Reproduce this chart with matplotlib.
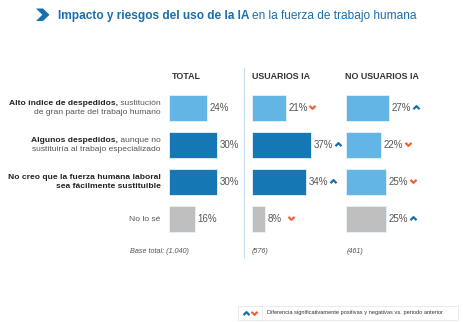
import matplotlib
matplotlib.use("Agg")
import matplotlib.pyplot as plt
from matplotlib.path import Path
from matplotlib.patches import Polygon, Rectangle

plt.rcParams['font.family'] = ['Liberation Sans', 'DejaVu Sans']

# data
columns = ["TOTAL", "USUARIOS IA", "NO USUARIOS IA"]
bases = ["Base total: (1.040)", "(576)", "(461)"]
total = [24, 30, 30, 16]
usuarios = [21, 37, 34, 8]
no_usuarios = [27, 22, 25, 25]
sig_usuarios = ["down", "up", "up", "down"]
sig_no_usuarios = ["up", "down", "down", "up"]
# category labels as (text, bold) pieces per line
categories = [
    [[("Alto índice de despedidos,", True), (" sustitución", False)],
     [("de gran parte del trabajo humano", False)]],
    [[("Algunos despedidos,", True), (" aunque no", False)],
     [("sustituiría al trabajo especializado", False)]],
    [[("No creo que la fuerza humana laboral", True)],
     [("sea fácilmente sustituible", True)]],
    [[("No lo sé", False)]],
]

LIGHT = "#62b5e5"
DARK = "#1677b5"
GRAY = "#bfbfbf"
UP = "#1670b0"
DOWN = "#f0643a"
TXT = "#555555"
column_colors = [
    [LIGHT, DARK, DARK, GRAY],
    [LIGHT, DARK, DARK, GRAY],
    [LIGHT, LIGHT, LIGHT, GRAY],
]

W, H = 463, 322
fig = plt.figure(figsize=(W / 100, H / 100), dpi=100)

# pixel-space overlay for text and decorations
ov = fig.add_axes([0, 0, 1, 1], zorder=5)
ov.set_xlim(0, W)
ov.set_ylim(H, 0)
ov.axis('off')
ov.patch.set_alpha(0)

PX_PER_PCT = 1.6
ROW_TOP, ROW_H = 89.5, 37
col_left = [169, 252, 346]
header_x = [172, 252, 345]
ax_w = 100

up_marker = Path([(-1, -0.55), (0, 0.45), (1, -0.55)], [Path.MOVETO, Path.LINETO, Path.LINETO])
down_marker = Path([(-1, 0.55), (0, -0.45), (1, 0.55)], [Path.MOVETO, Path.LINETO, Path.LINETO])

series = [total, usuarios, no_usuarios]
sigs = [None, sig_usuarios, sig_no_usuarios]
for ci, vals in enumerate(series):
    left = col_left[ci]
    bottom = H - (ROW_TOP + 4 * ROW_H)
    ax = fig.add_axes([left / W, bottom / H, ax_w / W, 4 * ROW_H / H])
    ax.set_xlim(0, ax_w / PX_PER_PCT)
    ax.set_ylim(3.5, -0.5)
    ax.axis('off')
    ax.patch.set_alpha(0)
    ax.barh(range(len(vals)), vals, height=0.70, color=column_colors[ci],
            edgecolor="#e8f3fb", linewidth=0.6)
    for i, v in enumerate(vals):
        ax.annotate(f"{v}%", (v, i), xytext=(2.5, 0), textcoords='offset pixels',
                    ha='left', va='center', fontsize=7, color=TXT)
        if sigs[ci] is not None:
            up = sigs[ci][i] == "up"
            ax.plot([v + 26.5 / PX_PER_PCT], [i - 0.02], linestyle='none',
                    marker=up_marker if up else down_marker, markersize=4.4,
                    markerfacecolor='none', markeredgewidth=1.6,
                    markeredgecolor=UP if up else DOWN, clip_on=False)
    # column header
    ov.text(header_x[ci], 76.5, columns[ci], fontsize=6.4, fontweight='bold',
            color="#333333", ha='left', va='center')

ov.text(189, 251, bases[0], fontsize=5.2, style='italic', color=TXT, ha='right', va='center')
ov.text(252, 251, bases[1], fontsize=5.2, style='italic', color=TXT, ha='left', va='center')
ov.text(347, 251, bases[2], fontsize=5.2, style='italic', color=TXT, ha='left', va='center')

# title with chevron
ov.add_patch(Polygon([(36, 8.5), (43, 8.5), (49.5, 14.8), (43, 21), (36, 21), (42.3, 14.8)],
                     closed=True, color="#1a6fae", lw=0))
fig.canvas.draw()
renderer = fig.canvas.get_renderer()
t1 = ov.text(57.5, 15.5, "Impacto y riesgos del uso de la IA", fontsize=8.55,
             fontweight='bold', color="#1a6fae", ha='left', va='center')
bb = t1.get_window_extent(renderer)
ov.text(57.5 + bb.width + 3, 15.5, "en la fuerza de trabajo humana", fontsize=8.55,
        color="#1a6fae", ha='left', va='center')


# category labels, right aligned, pieces drawn right to left
def rich_line(x_right, y, pieces):
    x = x_right
    for text, bold in reversed(pieces):
        t = ov.text(x, y, text, fontsize=6.1, ha='right', va='center',
                    fontweight='bold' if bold else 'normal',
                    color="#222222" if bold else TXT)
        x -= t.get_window_extent(renderer).width


for i, lines in enumerate(categories):
    yc = ROW_TOP + ROW_H * (i + 0.5)
    if len(lines) == 1:
        rich_line(160.5, yc, lines[0])
    else:
        rich_line(160.5, yc - 4.8, lines[0])
        rich_line(160.5, yc + 4.8, lines[1])

# separator between total and segments
ov.plot([243.5, 243.5], [68, 258], color="#c8e0f1", lw=0.9)

# legend box
ov.add_patch(Rectangle((238, 306), 219.5, 13.5, fill=False, edgecolor="#e6e6e6", lw=0.6))
ov.plot([262, 262], [306, 319.5], color="#e6e6e6", lw=0.6)
ov.plot([245.5], [312.8], linestyle='none', marker=up_marker, markersize=4.4,
        markerfacecolor='none', markeredgewidth=1.6, markeredgecolor=UP)
ov.plot([253.5], [312.8], linestyle='none', marker=down_marker, markersize=4.4,
        markerfacecolor='none', markeredgewidth=1.6, markeredgecolor=DOWN)
ov.text(267, 312.5, "Diferencia significativamente positivas y negativas vs. periodo anterior",
        fontsize=4.05, color="#333333", ha='left', va='center')

fig.savefig("out.png", dpi=100, facecolor='white')
